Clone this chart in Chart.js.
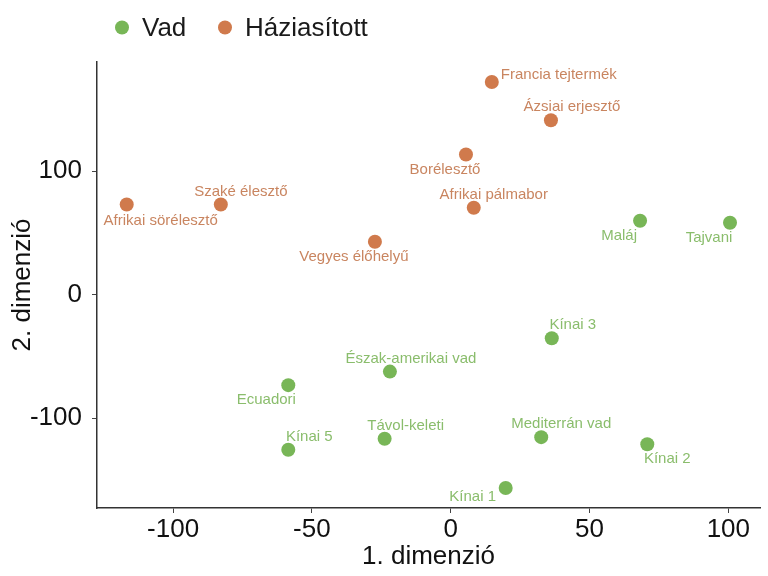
<!DOCTYPE html>
<html>
<head>
<meta charset="utf-8">
<script src="https://cdn.jsdelivr.net/npm/chart.js@4"></script>
<style>
  html, body { margin: 0; padding: 0; background: #fff; }
  #wrap { width: 768px; height: 576px; }
</style>
</head>
<body>
<div id="wrap"><canvas id="mdsChart" width="768" height="576"></canvas></div>
<script>
// Data
const seriesNames = ['Vad', 'Háziasított'];

const wildNames = ['Maláj', 'Tajvani', 'Kínai 3', 'Észak-amerikai vad', 'Ecuadori', 'Távol-keleti', 'Kínai 5', 'Mediterrán vad', 'Kínai 2', 'Kínai 1'];
const wildX = [68.2, 100.6, 36.4, -21.9, -58.5, -23.8, -58.5, 32.6, 70.8, 19.8];
const wildY = [59.9, 58.3, -35.3, -62.3, -73.3, -116.7, -125.6, -115.4, -121.1, -156.6];

const domNames = ['Francia tejtermék', 'Ázsiai erjesztő', 'Borélesztő', 'Afrikai pálmabor', 'Szaké élesztő', 'Afrikai sörélesztő', 'Vegyes élőhelyű'];
const domX = [14.8, 36.1, 5.5, 8.3, -82.8, -116.7, -27.3];
const domY = [172.3, 141.3, 113.6, 70.4, 73.1, 73.1, 42.9];

const xTicks = [-100, -50, 0, 50, 100];
const yTicks = [-100, 0, 100];

// Where each label sits relative to its point (px, text centre)
const wildLabelOffsets = [[-21, 15], [-21, 15], [21, -13], [21, -13], [-22, 15], [21, -13], [21, -13], [20, -13], [20, 15], [-33, 9]];
const domLabelOffsets = [[67, -7], [21, -13], [-21, 15], [20, -13], [20, -13], [34, 16], [-21, 15]];

const green = '#78b657';
const orange = '#d07a4c';
const greenText = '#8abd6c';
const orangeText = '#c98560';
const font = 'Liberation Sans, Arial, sans-serif';

function toPoints(xs, ys) {
    return xs.map((x, i) => ({ x: x, y: ys[i] }));
}

// Draws the text labels next to the points (like ggrepel)
const pointLabels = {
    id: 'pointLabels',
    afterDatasetsDraw(chart) {
        const ctx = chart.ctx;
        const sets = [
            { names: wildNames, offsets: wildLabelOffsets, color: greenText },
            { names: domNames, offsets: domLabelOffsets, color: orangeText }
        ];
        ctx.save();
        ctx.font = '15px ' + font;
        ctx.textAlign = 'center';
        ctx.textBaseline = 'middle';
        sets.forEach((set, di) => {
            const meta = chart.getDatasetMeta(di);
            ctx.fillStyle = set.color;
            meta.data.forEach((pt, i) => {
                const off = set.offsets[i];
                ctx.fillText(set.names[i], pt.x + off[0], pt.y + off[1]);
            });
        });
        ctx.restore();
    }
};

// Legend at the top left, ggplot style
const topLegend = {
    id: 'topLegend',
    afterDraw(chart) {
        const ctx = chart.ctx;
        const items = [
            { text: seriesNames[0], color: green, cx: 122 },
            { text: seriesNames[1], color: orange, cx: 225 }
        ];
        ctx.save();
        ctx.font = '26px ' + font;
        ctx.textBaseline = 'middle';
        ctx.textAlign = 'left';
        items.forEach(item => {
            ctx.beginPath();
            ctx.arc(item.cx, 27.5, 7, 0, Math.PI * 2);
            ctx.fillStyle = item.color;
            ctx.fill();
            ctx.fillStyle = '#1a1a1a';
            ctx.fillText(item.text, item.cx + 20, 29);
        });
        ctx.restore();
    }
};

const ctx = document.getElementById('mdsChart').getContext('2d');

new Chart(ctx, {
    type: 'scatter',
    data: {
        datasets: [{
            label: seriesNames[0],
            data: toPoints(wildX, wildY),
            backgroundColor: green,
            borderWidth: 0,
            pointRadius: 7
        }, {
            label: seriesNames[1],
            data: toPoints(domX, domY),
            backgroundColor: orange,
            borderWidth: 0,
            pointRadius: 7
        }]
    },
    options: {
        responsive: false,
        animation: false,
        layout: {
            padding: { top: 62, right: 8, bottom: 0, left: 0 }
        },
        plugins: {
            legend: { display: false },
            tooltip: { enabled: false }
        },
        scales: {
            x: {
                type: 'linear',
                min: -127.4,
                max: 111.4,
                afterBuildTicks: scale => { scale.ticks = xTicks.map(v => ({ value: v })); },
                afterFit: scale => { scale.height = 68; },
                grid: { display: true, drawOnChartArea: false, drawTicks: true, tickLength: 5, tickColor: '#444', tickWidth: 1 },
                border: { color: '#333', width: 1.5 },
                ticks: { color: '#111', font: { family: font, size: 26 }, padding: 1 },
                title: { display: true, text: '1. dimenzió', color: '#111', font: { family: font, size: 26 }, padding: { top: 0, bottom: 4 } }
            },
            y: {
                type: 'linear',
                min: -172.8,
                max: 188.5,
                afterBuildTicks: scale => { scale.ticks = yTicks.map(v => ({ value: v })); },
                afterFit: scale => { scale.width = 97; },
                grid: { display: true, drawOnChartArea: false, drawTicks: true, tickLength: 5, tickColor: '#444', tickWidth: 1 },
                border: { color: '#333', width: 1.5 },
                ticks: { color: '#111', font: { family: font, size: 26 }, padding: 10 },
                title: { display: true, text: '2. dimenzió', color: '#111', font: { family: font, size: 26 }, padding: { top: 7, bottom: 0 } }
            }
        }
    },
    plugins: [pointLabels, topLegend]
});
</script>
</body>
</html>
